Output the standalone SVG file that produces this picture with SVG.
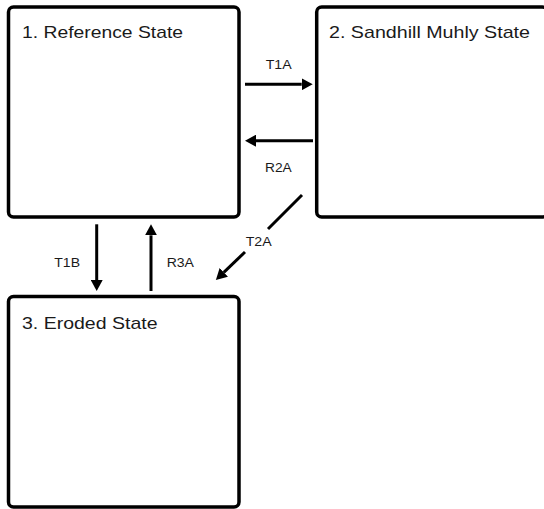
<svg xmlns="http://www.w3.org/2000/svg" width="544" height="509" viewBox="0 0 544 509">
<style>
.box{fill:#fff;stroke:#000;stroke-width:3.5}
.big{font-family:"Liberation Sans",Arial,sans-serif;font-size:17px;fill:#1a1a1a}
.lbl{font-family:"Liberation Sans",Arial,sans-serif;font-size:12px;fill:#1a1a1a}
.edge{stroke:#000;stroke-width:3;fill:none;marker-end:url(#ah)}
.plain{stroke:#000;stroke-width:3;fill:none}
</style>
<defs>
<marker id="ah" viewBox="0 0 11 12" refX="0" refY="6" markerWidth="11" markerHeight="12" markerUnits="userSpaceOnUse" orient="auto">
<path d="M0,0 L11,6 L0,12 z" fill="#000"/>
</marker>
</defs>
<rect width="544" height="509" fill="#fff"/>
<g id="node1">
<rect class="box" x="8.5" y="7" width="230.5" height="210" rx="5"/>
<text class="big" x="22" y="38" textLength="161" lengthAdjust="spacingAndGlyphs">1. Reference State</text>
</g>
<g id="node2">
<rect class="box" x="316.7" y="7" width="230.5" height="210" rx="5"/>
<text class="big" x="329" y="38" textLength="201" lengthAdjust="spacingAndGlyphs">2. Sandhill Muhly State</text>
</g>
<g id="node3">
<rect class="box" x="8.5" y="296.5" width="230.5" height="210.5" rx="5"/>
<text class="big" x="22" y="328.7" textLength="135.5" lengthAdjust="spacingAndGlyphs">3. Eroded State</text>
</g>
<g id="connectors">
<line class="edge" x1="245" y1="84.3" x2="301.7" y2="84.3"/>
<text class="lbl" x="265.7" y="69.3" textLength="26" lengthAdjust="spacingAndGlyphs">T1A</text>
<line class="edge" x1="313" y1="140.7" x2="256" y2="140.7"/>
<text class="lbl" x="265" y="171.7" textLength="26.7" lengthAdjust="spacingAndGlyphs">R2A</text>
<line class="plain" x1="302" y1="195" x2="268" y2="229"/>
<line class="edge" x1="245" y1="252" x2="223.8" y2="272.3"/>
<text class="lbl" x="245.7" y="246" textLength="26" lengthAdjust="spacingAndGlyphs">T2A</text>
<line class="edge" x1="96.7" y1="224.3" x2="96.7" y2="280"/>
<text class="lbl" x="54.3" y="267.3" textLength="25.7" lengthAdjust="spacingAndGlyphs">T1B</text>
<line class="edge" x1="151" y1="291" x2="151" y2="235.3"/>
<text class="lbl" x="166.7" y="267.3" textLength="27.3" lengthAdjust="spacingAndGlyphs">R3A</text>
</g>
</svg>
